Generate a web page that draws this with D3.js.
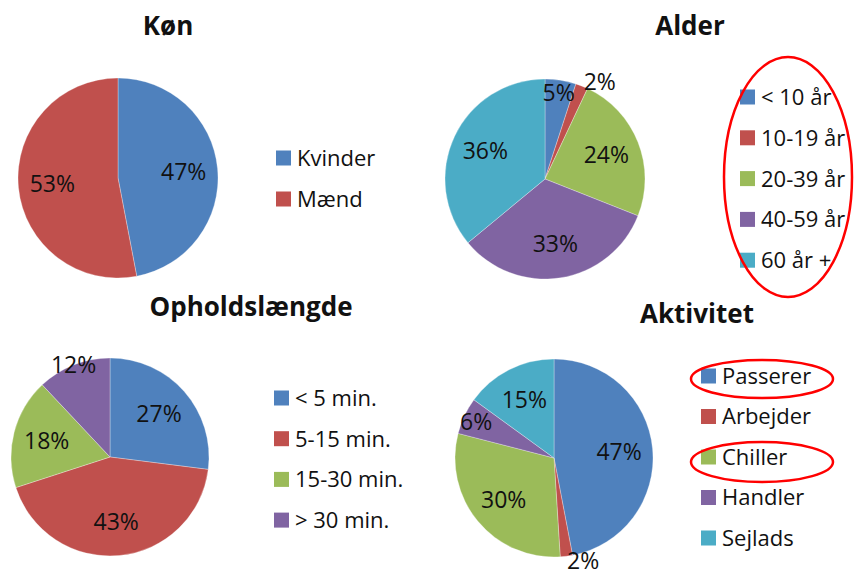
<!DOCTYPE html>
<html>
<head>
<meta charset="utf-8">
<script src="https://cdn.jsdelivr.net/npm/d3@7"></script>
<style>
  body { margin: 0; background: #fff; }
  text { font-family: "Open Sans", "Noto Sans", sans-serif; fill: #111; }
</style>
</head>
<body>
<div id="chart"></div>
<script>
// data
const konLabels = ['Kvinder', 'Mænd'];
const konValues = [47, 53];

const alderLabels = ['< 10 år', '10-19 år', '20-39 år', '40-59 år', '60 år +'];
const alderValues = [5, 2, 24, 33, 36];

const opholdLabels = ['< 5 min.', '5-15 min.', '15-30 min.', '> 30 min.'];
const opholdValues = [27, 43, 18, 12];

const aktivLabels = ['Passerer', 'Arbejder', 'Chiller', 'Handler', 'Sejlads'];
const aktivValues = [47, 2, 30, 6, 15];

const palette = ['#4f81bd', '#c0504d', '#9bbb59', '#8064a2', '#4bacc6'];

const width = 856, height = 578;

const svg = d3.select('#chart')
  .append('svg')
  .attr('width', width)
  .attr('height', height);

const panels = [
  { title: 'Køn', labels: konLabels, values: konValues,
    cx: 118, cy: 178, r: 100, titleX: 168, titleY: 35,
    legendX: 276, legendY: 158, legendStep: 41 },
  { title: 'Alder', labels: alderLabels, values: alderValues,
    cx: 545, cy: 179, r: 100, titleX: 690, titleY: 35,
    legendX: 740, legendY: 97, legendStep: 40.8 },
  { title: 'Opholdslængde', labels: opholdLabels, values: opholdValues,
    cx: 110, cy: 457, r: 99, titleX: 251, titleY: 316,
    legendX: 274, legendY: 398, legendStep: 40.7 },
  { title: 'Aktivitet', labels: aktivLabels, values: aktivValues,
    cx: 554, cy: 458, r: 99, titleX: 697, titleY: 323,
    legendX: 701, legendY: 376, legendStep: 40.5 }
];

const pie = d3.pie().sort(null).value(d => d);

// excel "best fit": small slices get pushed out towards the rim
function labelFactor(v) {
  if (v <= 3) return 1.05;
  if (v <= 7) return 0.87;
  if (v <= 12) return 1.0;
  return 0.66;
}

panels.forEach(p => {
  const color = d3.scaleOrdinal().domain(p.labels).range(palette);
  const arc = d3.arc().innerRadius(0).outerRadius(p.r);

  svg.append('text')
    .attr('x', p.titleX)
    .attr('y', p.titleY)
    .attr('text-anchor', 'middle')
    .style('font-size', '26px')
    .style('font-weight', 'bold')
    .text(p.title);

  const g = svg.append('g')
    .attr('transform', `translate(${p.cx}, ${p.cy})`);

  const arcs = pie(p.values);

  g.selectAll('path')
    .data(arcs)
    .enter()
    .append('path')
    .attr('d', arc)
    .attr('fill', (d, i) => color(p.labels[i]))
    .attr('stroke', 'rgba(255,255,255,0.5)')
    .attr('stroke-width', 0.6);

  g.selectAll('text.label')
    .data(arcs)
    .enter()
    .append('text')
    .attr('class', 'label')
    .attr('transform', d => {
      const lr = p.r * labelFactor(d.data);
      const c = d3.arc().innerRadius(lr).outerRadius(lr).centroid(d);
      return `translate(${c[0]}, ${c[1]})`;
    })
    // outside labels hang off the rim instead of sitting on it
    .attr('text-anchor', d => d.data <= 3 ? 'start' : 'middle')
    .attr('dy', '0.36em')
    .style('font-size', '23px')
    .text(d => d.data + '%');

  const legend = svg.append('g')
    .selectAll('g')
    .data(p.labels)
    .enter()
    .append('g')
    .attr('transform', (d, i) => `translate(${p.legendX}, ${p.legendY + i * p.legendStep})`);

  legend.append('rect')
    .attr('x', 0)
    .attr('y', -7.5)
    .attr('width', 15)
    .attr('height', 15)
    .attr('fill', d => color(d));

  legend.append('text')
    .attr('x', 21)
    .attr('y', 0)
    .attr('dy', '0.36em')
    .style('font-size', '22px')
    .text(d => d);
});

// red hand-drawn highlight rings
const rings = [
  { cx: 788, cy: 177, rx: 64, ry: 120 },
  { cx: 762, cy: 379, rx: 71, ry: 19 },
  { cx: 762, cy: 462, rx: 71, ry: 20 }
];

svg.selectAll('ellipse')
  .data(rings)
  .enter()
  .append('ellipse')
  .attr('cx', d => d.cx)
  .attr('cy', d => d.cy)
  .attr('rx', d => d.rx)
  .attr('ry', d => d.ry)
  .attr('fill', 'none')
  .attr('stroke', '#f00')
  .attr('stroke-width', 2.5);
</script>
</body>
</html>
